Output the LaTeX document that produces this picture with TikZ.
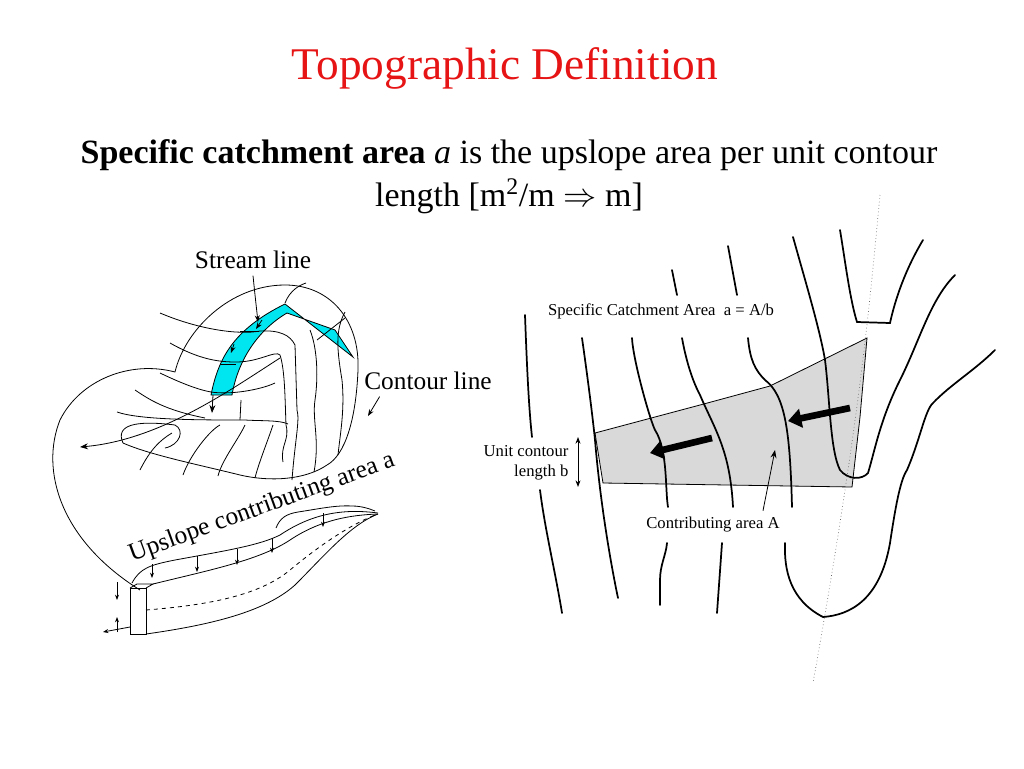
\documentclass[tikz,border=0pt]{standalone}
\usepackage{fontspec}
\setmainfont{Liberation Serif}
\usetikzlibrary{arrows.meta,positioning}
\definecolor{titlered}{RGB}{230,20,20}
\definecolor{strip}{RGB}{0,230,240}
\tikzset{
  sketch/.style={line width=0.6pt},
  contour/.style={line width=1.3pt, line cap=round},
  small/.style={font=\fontsize{12.5}{15}\selectfont},
  label/.style={font=\fontsize{19}{22}\selectfont},
  fatarrow/.style={line width=5pt, -{Triangle[length=10pt,width=14pt]}},
}
\begin{document}
\begin{tikzpicture}[x=0.75pt, y=-0.75pt]
      \useasboundingbox (0,0) rectangle (1024,768);

      % title and subtitle
      \node[text=titlered, font=\fontsize{34}{38}\selectfont] (title) at (505,68) {Topographic Definition};
      \node[font=\fontsize{25.5}{30}\selectfont, align=center] (sub) at (509,177)
        {\textbf{Specific catchment area} \textit{a} is the upslope area per unit contour\\[2pt]
         length [m\textsuperscript{2}/m $\Rightarrow$ m]};

      % left sketch: strip of flow
      \fill[strip, draw=black, sketch] (211,395) .. controls (218,360) and (232,330) .. (285,304)
        -- (353,357) -- (335,330) -- (287,313) .. controls (258,330) and (238,360) .. (232,395) -- cycle;
      \draw[sketch] (220,364) -- (236,364);
      \draw[sketch] (240,331) -- (259,331);

      % left sketch: outline
      \draw[sketch] (140,590) .. controls (60,540) and (40,470) .. (60,420)
        .. controls (80,380) and (130,360) .. (175,372)
        .. controls (185,330) and (230,285) .. (285,285)
        .. controls (330,285) and (360,320) .. (358,370)
        .. controls (356,420) and (345,455) .. (327,465)
        .. controls (305,480) and (270,482) .. (240,475)
        .. controls (200,465) and (150,455) .. (123,443);
      \draw[sketch] (123,443) .. controls (115,425) and (135,420) .. (175,425)
        .. controls (185,430) and (180,445) .. (165,448);
      % contour lines
      \draw[sketch] (160,313) .. controls (200,330) and (240,335) .. (260,331) .. controls (280,330) and (290,335) .. (295,345) -- (297,410) .. controls (300,420) and (295,440) .. (292,480);
      \draw[sketch] (170,343) .. controls (200,360) and (220,362) .. (236,362) .. controls (260,362) and (275,350) .. (280,355) .. controls (285,370) and (285,400) .. (286,425) .. controls (290,440) and (280,445) .. (283,462);
      \draw[sketch] (160,373) .. controls (185,385) and (200,390) .. (211,392) .. controls (230,395) and (260,390) .. (275,383);
      \draw[sketch] (135,390) .. controls (150,400) and (165,410) .. (205,418);
      \draw[sketch] (117,412) .. controls (140,420) and (200,420) .. (245,420) .. controls (260,421) and (280,420) .. (288,424);
      \draw[sketch] (240,420) -- (241,400);
      \draw[sketch] (140,470) .. controls (150,450) and (160,440) .. (172,433);
      \draw[sketch] (183,475) .. controls (190,455) and (210,430) .. (220,425);
      \draw[sketch] (218,476) .. controls (222,460) and (238,440) .. (245,425);
      \draw[sketch] (255,478) .. controls (258,465) and (268,440) .. (273,425);
      \draw[sketch] (310,330) .. controls (318,350) and (318,380) .. (315,400) .. controls (312,420) and (320,440) .. (314,472);
      \draw[sketch] (345,312) .. controls (335,330) and (337,350) .. (342,380) .. controls (345,410) and (340,435) .. (338,455);
      \draw[sketch] (345,318) -- (317,340);
      \draw[sketch] (285,303) .. controls (290,290) and (300,285) .. (306,283);
      % stream arrows
      \draw[sketch, -{Stealth[length=6pt]}] (280,358) .. controls (230,390) and (160,440) .. (80,447);
      \draw[sketch, -{Stealth[length=6pt]}] (213,395) -- (212,413);
      \draw[sketch, -{Stealth[length=5pt]}] (262,320) -- (256,329);
      \draw[sketch, -{Stealth[length=5pt]}] (234,344) -- (231,353);

      % channel and upslope surface
      \draw[sketch] (130,588) rectangle (146,634);
      \draw[sketch] (130,588) -- (137,584) -- (153,584) -- (146,588);
      \draw[sketch] (153,584) .. controls (210,570) and (260,560) .. (290,540) .. controls (320,520) and (350,515) .. (378,514);
      \draw[sketch] (146,634) .. controls (210,625) and (265,612) .. (295,585) .. controls (325,555) and (350,525) .. (378,514);
      \draw[sketch, dashed] (146,610) .. controls (210,605) and (260,595) .. (290,570) .. controls (320,545) and (350,525) .. (375,515);
      \draw[sketch] (132,583) .. controls (140,568) and (150,565) .. (175,560) .. controls (230,550) and (260,545) .. (280,535) .. controls (310,515) and (340,508) .. (378,513);
      \foreach \xa/\ya/\yb in {152/564/578, 197/556/572, 237/549/565, 272/538/553, 323/513/527}
        \draw[sketch, -{Stealth[length=4pt]}] (\xa,\ya) -- (\xa,\yb);
      \draw[sketch, -{Stealth[length=4pt]}] (117,582) -- (117,600);
      \draw[sketch, -{Stealth[length=4pt]}] (117,632) -- (117,617);
      \draw[sketch, -{Stealth[length=4pt]}] (130,627) -- (103,632);
      % brace
      \draw[sketch] (276,528) .. controls (280,518) and (286,514) .. (298,512) .. controls (318,509) and (336,505) .. (352,506) .. controls (362,506) and (370,509) .. (375,511);

      % left labels
      \node[label, rotate=20] (upslope) at (262,508) {Upslope contributing area a};
      \node[label] (stream) at (253,260) {Stream line};
      \node[label] (contline) at (428,381) {Contour line};
      \draw[sketch, -{Stealth[length=5pt]}] (stream.south) ++(0,2) .. controls (255,295) .. (258,322);
      \draw[sketch, -{Stealth[length=5pt]}] (contline.south west) ++(20,2) -- (368,416);

      % right sketch: contributing area
      \filldraw[fill=black!15, sketch] (595,433) -- (700,405) -- (770,386) -- (867,338) -- (860,417) -- (852,487) -- (603,483) -- cycle;

      % right sketch: contour lines
      \draw[contour] (525,315) .. controls (527,370) and (529,410) .. (532,437);
      \draw[contour] (540,490) .. controls (545,530) and (555,570) .. (562,613);
      \draw[contour] (582,338) .. controls (588,380) and (593,420) .. (595,440) .. controls (600,500) and (610,560) .. (618,598);
      \draw[contour] (632,338) .. controls (633,360) and (650,420) .. (655,430) .. controls (668,450) and (665,490) .. (668,507);
      \draw[contour] (667,543) .. controls (666,555) and (660,565) .. (660,580) -- (660,605);
      \draw[contour] (672,270) -- (677,295);
      \draw[contour] (682,338) .. controls (686,360) and (692,380) .. (700,395) .. controls (715,430) and (730,450) .. (733,507);
      \draw[contour] (722,543) -- (717,613);
      \draw[contour] (728,246) -- (737,295);
      \draw[contour] (748,338) .. controls (750,360) and (755,370) .. (765,380) .. controls (785,395) and (790,430) .. (792,507);
      \draw[contour] (785,543) .. controls (784,570) and (790,600) .. (823,617) .. controls (850,615) and (880,600) .. (890,543) .. controls (895,510) and (900,480) .. (907,470) .. controls (920,440) and (925,410) .. (933,403) .. controls (950,385) and (975,370) .. (995,350);
      \draw[contour] (793,237) .. controls (805,280) and (820,330) .. (825,360) .. controls (830,400) and (830,450) .. (840,470) .. controls (848,480) and (862,480) .. (868,473) .. controls (875,450) and (880,420) .. (900,380) .. controls (920,340) and (930,300) .. (955,275);
      \draw[contour] (840,230) .. controls (845,260) and (850,300) .. (857,322) -- (890,323) .. controls (895,300) and (905,270) .. (923,240);
      \draw[line width=0.5pt, dotted, black!60] (880,195) .. controls (870,300) and (860,420) .. (813,683);

      % flow arrows
      \draw[fatarrow] (850,408) -- (788,421);
      \draw[fatarrow] (712,438) -- (650,453);

      % right labels
      \node[small] (sca) at (661,311) {Specific Catchment Area\ \ a = A/b};
      \node[small, align=right, anchor=east, inner sep=1pt] (unit) at (570,463) {Unit contour\\length b};
      \node[small] (carea) at (713,525) {Contributing area A};
      \coordinate (btop) at (578,437);
      \coordinate (bbot) at (578,487);
      \draw[line width=0.7pt, {Stealth[length=5pt]}-{Stealth[length=5pt]}] (btop) -- (bbot);
      \draw[sketch, -{Stealth[length=6pt]}] (carea.north) ++(50,-2) -- (775,450);
\end{tikzpicture}
\end{document}
